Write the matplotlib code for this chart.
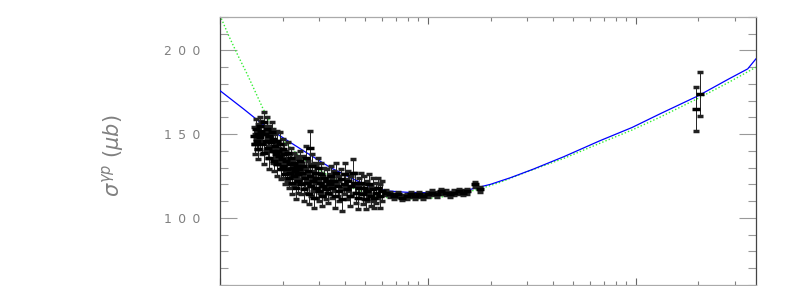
import matplotlib
matplotlib.use("Agg")
from matplotlib import pyplot as plt
from matplotlib.ticker import FixedLocator, MultipleLocator, FuncFormatter, NullFormatter

# low energy photoproduction data (sqrt(s) in GeV, sigma in mub, error)
low_x = [1.46, 1.47, 1.49, 1.50, 1.52, 1.53, 1.55, 1.56, 1.58, 1.60, 1.62, 1.63, 1.65,
         1.67, 1.68, 1.70, 1.72, 1.73, 1.75, 1.77, 1.79, 1.80, 1.82, 1.84, 1.85,
         1.87, 1.89, 1.90, 1.92, 1.94, 1.96, 1.98, 2.00, 2.02, 2.04, 2.06, 2.08, 2.10,
         2.12, 2.14, 2.16, 2.18, 2.20, 2.22, 2.24, 2.26, 2.28, 2.30, 2.32, 2.34, 2.36,
         2.38, 2.40,
         2.42, 2.45, 2.48, 2.50, 2.53, 2.56, 2.58, 2.61, 2.64, 2.67, 2.70, 2.71, 2.73,
         2.76, 2.79, 2.82, 2.85, 2.88, 2.91, 2.95, 2.98, 3.02, 3.06, 3.10, 3.14, 3.18,
         3.22, 3.27, 3.32, 3.37,
         3.42, 3.47, 3.52, 3.58, 3.63, 3.69, 3.75, 3.81, 3.87, 3.94, 4.00, 4.07, 4.14,
         4.21, 4.28, 4.36, 4.44, 4.52, 4.60, 4.68,
         4.76, 4.85, 4.94, 5.03, 5.12, 5.22, 5.32, 5.42, 5.52, 5.63, 5.75, 5.87, 6.00]
low_y = [149, 144, 153, 146, 150, 141, 155, 148, 152, 144, 157, 139, 150,
         146, 153, 142, 149, 136, 145, 151, 140, 147, 134, 143, 138,
         146, 132, 140, 137, 144, 129, 135, 141, 131, 138, 126, 134, 129,
         139, 124, 132, 127, 136, 121, 130, 125, 133, 128, 118, 131, 126,
         122, 129,
         134, 120, 127, 131, 117, 124, 136, 121, 128, 114, 142, 125, 119,
         131, 122, 112, 127, 118, 124, 130, 116, 121, 126, 113, 119, 124,
         117, 122, 115, 120,
         125, 118, 122, 113, 127, 119, 116, 123, 111, 120, 126, 117, 122,
         113, 119, 127, 121, 115, 112, 118,
         121, 114, 118, 111, 116, 120, 113, 117, 112, 115, 118, 113, 116]
low_err = [5, 6, 6, 5, 6, 6, 5, 7, 6, 6, 6, 7, 5,
           6, 7, 6, 6, 7, 5, 6, 7, 6, 6, 7, 6,
           6, 7, 6, 5, 7, 6, 6, 6, 7, 6, 6, 6, 7,
           6, 6, 6, 7, 6, 7, 6, 6, 6, 7, 7, 6, 6,
           7, 6,
           6, 6, 6, 6, 7, 6, 7, 6, 6, 6, 10, 6, 6,
           7, 6, 6, 6, 6, 7, 6, 6, 6, 7, 6, 6, 6,
           6, 7, 6, 6,
           6, 6, 6, 7, 6, 6, 6, 6, 7, 6, 7, 6, 6,
           6, 6, 8, 6, 6, 7, 6,
           6, 6, 7, 6, 6, 6, 6, 7, 6, 6, 6, 7, 6]

mid_x = [6.3, 6.6, 6.9, 7.2, 7.5, 7.9, 8.3, 8.7, 9.1, 9.5, 10.0, 10.5, 11.0, 11.6,
         12.2, 12.8, 13.4, 14.1, 14.8, 15.5, 16.8, 17.8]
mid_y = [115, 114, 113, 114, 112, 113, 114, 113, 114, 113, 114, 115, 114, 116,
         115, 114, 115, 116, 115, 116, 120, 117]
mid_err = [1.5] * len(mid_x)

# HERA points
hera_x = [195, 203]
hera_y = [165, 174]
hera_err = [13, 13]

# fit curves
blue_x = [1.0, 1.3, 1.6, 2.0, 2.6, 3.4, 4.4, 5.3, 6.5, 8.0, 10, 12.5, 16, 20, 25, 32,
          45, 67, 96, 130, 200, 280, 345, 378]
blue_y = [176, 165, 156, 148, 139, 130, 123, 118.5, 116, 115.2, 115, 115.5, 117, 120,
          124, 129, 136.5, 146, 154, 162, 173, 183, 189, 195]
green_x = [1.0, 1.1, 1.22, 1.35, 1.47, 1.6, 1.76, 2.0, 2.4, 2.8, 3.5, 4.4, 5.5, 7.0,
           9.0, 11, 14, 18, 22, 30, 45, 67, 96, 130, 200, 280, 378]
green_y = [221, 209, 197, 186, 176, 166, 156, 146.5, 137, 131, 123.5, 117.5, 113,
           111.5, 111.3, 112, 114, 117.5, 121, 127.5, 135.5, 144.5, 152.5, 160, 171.5,
           181, 190]

fig = plt.figure(figsize=(7.97, 2.86), dpi=100)
ax = fig.add_axes([0.276, 0.0045, 0.6725, 0.936])

ax.plot(green_x, green_y, color="#33ee33", lw=1.0, ls=(0, (1, 1.5)), zorder=2)
ax.plot(blue_x, blue_y, color="#0000ff", lw=0.9, zorder=3)

for xs, ys, es in [(low_x, low_y, low_err), (mid_x, mid_y, mid_err), (hera_x, hera_y, hera_err)]:
    _, caps, _ = ax.errorbar(xs, ys, yerr=es, fmt="_", color="black", ms=6, mew=2.5,
                             ecolor="#222222", elinewidth=0.7, capsize=2, capthick=0.7,
                             zorder=4)
    for c in caps:
        c.set_color("0.7")

ax.set_xscale("log")
ax.set_xlim(1, 378)
ax.set_ylim(60, 220)

ax.yaxis.set_major_locator(FixedLocator([100, 150, 200]))
ax.yaxis.set_minor_locator(MultipleLocator(10))
ax.yaxis.set_major_formatter(FuncFormatter(lambda v, p: "\u2002".join(str(int(v)))))
ax.xaxis.set_major_formatter(NullFormatter())
ax.xaxis.set_minor_formatter(NullFormatter())

ax.tick_params(axis="y", which="major", direction="in", length=12, width=0.8,
               color="0.6", left=True, right=True, labelsize=9, labelcolor="0.5", pad=14)
ax.tick_params(axis="y", which="minor", direction="in", length=6, width=0.8,
               color="0.6", left=True, right=True)
ax.tick_params(axis="x", which="major", direction="in", length=5, width=0.8,
               color="0.4", top=True, bottom=True)
ax.tick_params(axis="x", which="minor", direction="in", length=2.8, width=0.8,
               color="0.5", top=True, bottom=True)

for side in ["left", "right"]:
    ax.spines[side].set_color("#444444")
    ax.spines[side].set_linewidth(0.9)
for side in ["top", "bottom"]:
    ax.spines[side].set_color("#aaaaaa")
    ax.spines[side].set_linewidth(0.9)

ax.set_ylabel(r"$\sigma^{\gamma p}\ (\mu b)$", fontsize=15, color="0.5")
ax.yaxis.set_label_coords(-0.175, 0.48)

fig.savefig("out.png", dpi=100)
